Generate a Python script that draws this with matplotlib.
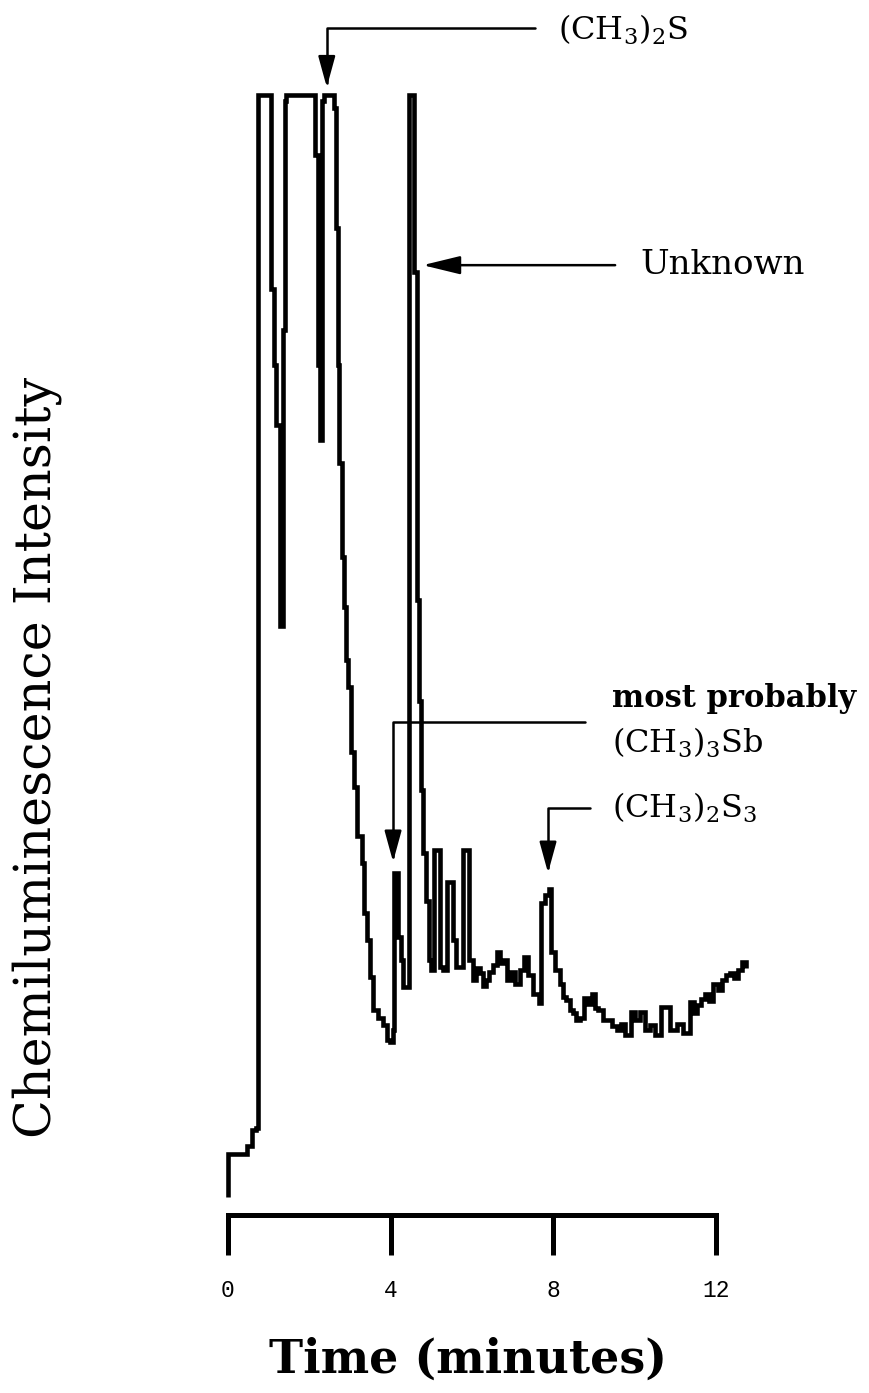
import numpy as np
import matplotlib
matplotlib.use("Agg")
import matplotlib.pyplot as plt

plt.rcParams['font.family'] = ['DejaVu Serif']
plt.rcParams['mathtext.fontset'] = 'dejavuserif'

# chromatogram trace, time in minutes, intensity in arbitrary units (100 = detector full scale)
time_min = [0.00, 0.00, 0.42, 0.47, 0.59, 0.69, 0.74, 0.74, 1.06, 1.06,
            1.13, 1.18, 1.28, 1.33, 1.35, 1.40, 1.43, 2.11, 2.14, 2.21,
            2.26, 2.31, 2.31, 2.36, 2.53, 2.61, 2.66, 2.70, 2.73, 2.80,
            2.85, 2.90, 2.95, 3.02, 3.10, 3.17, 3.29, 3.34, 3.42, 3.49,
            3.57, 3.69, 3.81, 3.91, 3.98, 4.06, 4.08, 4.13, 4.18, 4.25,
            4.30, 4.43, 4.45, 4.55, 4.57, 4.65, 4.70, 4.75, 4.80, 4.87,
            4.94, 4.99, 5.06, 5.14, 5.21, 5.29, 5.38, 5.48, 5.53, 5.61,
            5.68, 5.78, 5.88, 5.93, 6.02, 6.11, 6.20, 6.27, 6.34, 6.43,
            6.52, 6.61, 6.69, 6.76, 6.86, 6.96, 7.06, 7.18, 7.28, 7.38,
            7.50, 7.65, 7.70, 7.79, 7.89, 7.94, 8.04, 8.16, 8.24, 8.31,
            8.40, 8.48, 8.57, 8.66, 8.75, 8.85, 8.95, 9.03, 9.10, 9.21,
            9.32, 9.44, 9.56, 9.66, 9.76, 9.91, 10.02, 10.13, 10.25, 10.38,
            10.50, 10.65, 10.74, 10.87, 11.03, 11.19, 11.36, 11.45, 11.53, 11.63,
            11.73, 11.83, 11.93, 12.04, 12.15, 12.25, 12.34, 12.44, 12.54, 12.64,
            12.74]
intensity = [0.3, 4.2, 4.2, 4.9, 6.3, 6.5, 12.0, 100.0, 100.0, 82.4,
             75.6, 70.1, 51.9, 51.9, 78.7, 99.5, 100.0, 100.0, 94.6, 75.6,
             68.8, 68.8, 99.5, 100.0, 100.0, 98.8, 88.0, 75.6, 66.7, 58.2,
             53.7, 48.9, 46.4, 40.5, 37.4, 32.9, 30.5, 26.0, 23.5, 20.2,
             17.2, 16.5, 15.8, 14.5, 14.3, 15.4, 29.6, 29.6, 23.8, 21.7,
             19.3, 19.3, 100.0, 100.0, 84.0, 54.3, 45.2, 37.1, 31.4, 27.1,
             21.7, 20.8, 31.7, 31.7, 21.1, 20.8, 28.8, 28.8, 23.5, 21.1,
             21.1, 31.7, 31.7, 21.7, 19.9, 21.0, 20.5, 19.4, 19.9, 20.6,
             21.3, 22.4, 21.4, 21.7, 19.9, 20.6, 19.5, 20.8, 22.0, 20.4,
             18.6, 17.8, 26.9, 27.6, 28.1, 22.4, 20.8, 19.5, 18.4, 18.1,
             17.2, 16.9, 16.3, 16.5, 18.3, 17.7, 18.6, 17.4, 17.2, 16.3,
             16.3, 15.7, 15.4, 15.9, 14.9, 17.0, 16.3, 17.0, 15.4, 15.8,
             14.9, 17.5, 17.5, 15.4, 15.9, 15.1, 17.9, 16.9, 17.6, 18.2,
             18.6, 18.0, 19.5, 19.0, 19.9, 20.4, 20.5, 20.1, 20.8, 21.5,
             21.0]

x_ticks = [0, 4, 8, 12]
x_tick_labels = ['0', '4', '8', '12']

# peak labels: text, arrow tip (t, I), elbow height, line start time
peak_notes = [
    (r'(CH$_3$)$_2$S', 2.43, 100.7, 106.1, 7.55),
    (r'(CH$_3$)$_3$Sb', 4.06, 30.6, 43.3, 8.78),
    (r'(CH$_3$)$_2$S$_3$', 7.87, 29.6, 35.5, 8.90),
]

fig = plt.figure(figsize=(8.7, 13.93), dpi=100)
ax = fig.add_axes([0.262, 0.1278, 0.6124, 0.804])
ax.plot(time_min, intensity, color='black', lw=3.3, clip_on=False,
        drawstyle='steps-post', solid_joinstyle='miter', solid_capstyle='butt')
ax.set_xlim(0, 13.1)
ax.set_ylim(-1.36, 100)

for s in ['left', 'right', 'top']:
    ax.spines[s].set_visible(False)
ax.spines['bottom'].set_linewidth(3.6)
ax.spines['bottom'].set_bounds(0, 12)
ax.set_yticks([])
ax.set_xticks(x_ticks)
ax.set_xticklabels(x_tick_labels, family='Liberation Mono', fontsize=16.5)
ax.tick_params(axis='x', direction='out', length=29, width=3.6, pad=17)

arrow = dict(arrowstyle='-|>,head_length=0.95,head_width=0.26', color='black',
             lw=1.8, shrinkA=0, shrinkB=0, mutation_scale=20,
             connectionstyle='angle,angleA=0,angleB=90,rad=0')
for label, tx, ty, hy, sx in peak_notes:
    ax.annotate('', xy=(tx, ty), xytext=(sx, hy), arrowprops=arrow,
                annotation_clip=False)

ax.annotate('', xy=(4.79, 84.6), xytext=(9.52, 84.6), annotation_clip=False,
            arrowprops=dict(arrowstyle='-|>,head_length=1.15,head_width=0.28',
                            color='black', lw=1.8, shrinkA=0, shrinkB=0,
                            mutation_scale=20))

fs = 23
ax.text(8.11, 105.9, peak_notes[0][0], fontsize=fs, va='center', ha='left')
ax.text(10.13, 84.6, 'Unknown', fontsize=24.5, va='center', ha='left')
ax.text(9.44, 45.4, 'most probably', fontsize=22, va='center', ha='left',
        fontweight='bold')
ax.text(9.44, 41.4, peak_notes[1][0], fontsize=fs, va='center', ha='left')
ax.text(9.44, 35.5, peak_notes[2][0], fontsize=fs, va='center', ha='left')

fig.text(37 / 870, 1 - 757 / 1393, 'Chemiluminescence Intensity',
         rotation=90, fontsize=36.5, ha='center', va='center')
fig.text(468 / 870, 1 - 1360 / 1393, 'Time (minutes)', fontsize=33,
         fontweight='bold', ha='center', va='center')

fig.savefig('out.png', dpi=100)
